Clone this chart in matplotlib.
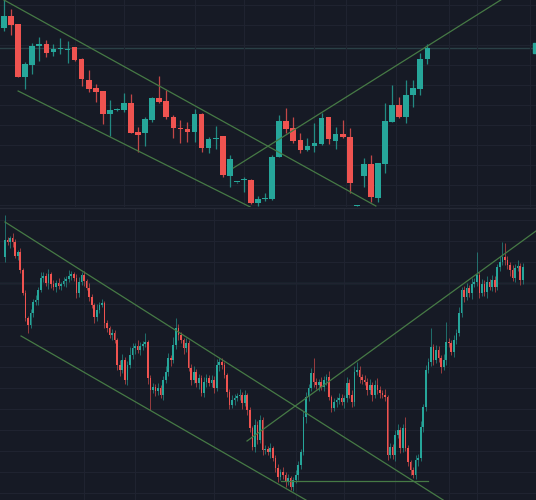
#Gráfico de velas: dos paneles con canales de tendencia

import matplotlib
matplotlib.use("Agg")
import matplotlib.pyplot as plt
import matplotlib.transforms as mtransforms
from matplotlib.patches import Rectangle
import numpy as np

# 1. Datos del panel superior (velas diarias)
sup_apertura = [617, 653, 628, 470, 504, 562, 569, 543, 552, 550, 558, 522, 460, 436, 427, 358,
                370, 370, 391, 304, 302, 340, 407, 397, 350, 317, 313, 303, 358, 255, 282, 291,
                173, 153, 159, 160, 92, 102, 102, 230, 338, 316, 280, 250, 262, 268, 350, 277,
                297, 290, 82, 172, 208, 107, 208, 335, 385, 350, 415, 432, 523]
sup_maximo = [710, 672, 628, 515, 570, 588, 580, 569, 585, 578, 560, 525, 490, 447, 427, 400,
              375, 420, 417, 320, 350, 410, 472, 430, 355, 340, 335, 373, 360, 290, 322, 292,
              235, 155, 170, 162, 113, 122, 235, 355, 375, 350, 300, 285, 330, 360, 350, 320,
              340, 315, 84, 225, 235, 210, 390, 445, 410, 460, 460, 540, 567]
sup_minimo = [608, 595, 468, 432, 478, 517, 528, 533, 538, 512, 518, 441, 423, 395, 327, 293,
              367, 365, 302, 245, 263, 335, 392, 342, 287, 270, 275, 275, 245, 240, 252, 170,
              140, 152, 123, 88, 82, 97, 100, 230, 300, 270, 240, 248, 245, 265, 268, 253,
              285, 122, 81, 140, 95, 93, 180, 335, 345, 330, 380, 415, 508]
sup_cierre = [653, 625, 470, 508, 563, 569, 542, 554, 555, 553, 521, 464, 434, 425, 358, 371,
              372, 392, 302, 296, 343, 407, 395, 349, 315, 313, 303, 358, 257, 283, 286, 175,
              223, 154, 161, 92, 103, 105, 230, 337, 313, 278, 250, 263, 270, 347, 283, 297,
              289, 150, 83, 208, 108, 210, 337, 385, 350, 415, 437, 523, 556]

# líneas de tendencia dibujadas (indice de vela, precio)
sup_linea_alta = ([0, 52.7], [700, 82])
sup_linea_baja = ([2.0, 34.9], [427, 79])
sup_linea_sube = ([32.5, 70.4], [196, 700])

# 2. Datos del panel inferior (velas de menor plazo)
inf_apertura0 = 243
inf_cierre = [260, 258, 262, 258, 244, 248, 230, 207, 182, 175,
              187, 198, 200, 210, 222, 224, 217, 226, 216, 213,
              217, 214, 216, 219, 221, 224, 226, 222, 207, 218,
              225, 219, 212, 203, 195, 183, 190, 195, 197, 177,
              172, 165, 167, 160, 135, 130, 140, 120, 135, 145,
              152, 154, 150, 154, 156, 158, 122, 110, 113, 109,
              112, 105, 120, 128, 142, 140, 155, 172, 165, 160,
              152, 157, 132, 120, 128, 117, 122, 107, 118, 122,
              117, 120, 112, 135, 138, 135, 125, 108, 95, 100,
              102, 104, 105, 97, 105, 90, 72, 53, 75, 60,
              80, 50, 51, 48, 52, 42, 32, 23, 28, 25,
              18, 22, 13, 20, 25, 35, 48, 83, 103, 112,
              127, 118, 115, 118, 113, 120, 123, 103, 92, 98,
              100, 102, 98, 102, 117, 105, 98, 128, 130, 123,
              120, 118, 110, 115, 105, 115, 110, 107, 105, 103,
              45, 53, 45, 65, 70, 52, 72, 52, 38, 30,
              25, 40, 42, 73, 93, 130, 138, 153, 140, 150,
              142, 133, 140, 158, 157, 148, 160, 167, 187, 210,
              203, 212, 207, 216, 218, 225, 207, 216, 208, 218,
              213, 220, 213, 233, 238, 243, 240, 235, 230, 222,
              232, 234, 220, 233]
inf_mecha_arriba = [25, 3, 2, 5, 3, 2, 4, 2, 3, 2,
                    4, 3, 5, 3, 6, 4, 3, 5, 2, 4,
                    3, 5, 2, 4, 3, 6, 3, 2, 4, 5,
                    3, 4, 2, 5, 3, 2, 6, 3, 4, 2,
                    3, 2, 4, 3, 2, 5, 6, 3, 4, 8,
                    5, 3, 6, 4, 3, 9, 2, 3, 4, 3,
                    5, 3, 4, 6, 5, 3, 8, 10, 4, 3,
                    2, 5, 3, 4, 6, 3, 4, 3, 5, 4,
                    3, 5, 4, 6, 4, 4, 3, 2, 3, 5,
                    4, 3, 6, 3, 5, 2, 3, 2, 6, 4,
                    5, 3, 4, 3, 5, 2, 3, 4, 3, 5,
                    3, 4, 2, 3, 5, 4, 3, 6, 5, 4,
                    5, 15, 4, 3, 5, 4, 3, 6, 2, 4,
                    3, 5, 4, 3, 6, 4, 5, 6, 8, 4,
                    3, 5, 4, 6, 3, 5, 7, 4, 3, 6,
                    2, 4, 3, 5, 6, 3, 4, 11, 3, 2,
                    3, 5, 4, 6, 3, 5, 4, 19, 3, 5,
                    4, 3, 6, 20, 4, 3, 5, 4, 6, 3,
                    4, 5, 3, 6, 4, 23, 3, 5, 4, 6,
                    3, 5, 4, 3, 6, 15, 14, 4, 3, 5,
                    4, 6, 3, 4]
inf_mecha_abajo = [5, 3, 6, 5, 2, 4, 3, 2, 3, 8,
                   3, 4, 3, 5, 2, 4, 3, 6, 4, 3,
                   5, 3, 4, 2, 6, 3, 4, 3, 5, 4,
                   3, 5, 2, 4, 3, 6, 4, 3, 2, 5,
                   4, 3, 5, 3, 5, 6, 3, 4, 5, 3,
                   4, 6, 3, 5, 4, 3, 6, 20, 3, 5,
                   4, 3, 5, 3, 4, 6, 3, 4, 5, 3,
                   6, 4, 3, 5, 3, 4, 6, 3, 4, 5,
                   3, 4, 5, 3, 6, 4, 3, 5, 4, 3,
                   5, 3, 4, 6, 3, 5, 4, 3, 5, 4,
                   3, 5, 4, 3, 6, 3, 4, 5, 3, 4,
                   5, 3, 3, 4, 3, 5, 4, 3, 6, 4,
                   3, 5, 4, 6, 3, 4, 5, 3, 4, 3,
                   5, 4, 3, 6, 4, 3, 5, 4, 3, 6,
                   4, 3, 5, 4, 6, 3, 4, 5, 3, 4,
                   5, 3, 4, 6, 3, 5, 4, 3, 4, 5,
                   3, 4, 6, 3, 5, 4, 3, 4, 5, 3,
                   4, 6, 3, 5, 4, 3, 5, 4, 3, 4,
                   5, 3, 4, 6, 3, 4, 5, 3, 4, 6,
                   3, 4, 5, 3, 4, 3, 5, 4, 6, 3,
                   4, 3, 5, 4]

inf_linea_alta = ([0, 171.8], [278, 0])
inf_linea_baja = ([6.3, 118], [164, 0])
inf_linea_sube = ([94.9, 208.2], [59, 269])
inf_soporte = ([108.2, 165.9], [19, 19])
inf_nivel = 217

# colores estilo oscuro
fondo = "#161a25"
rejilla = "#1f2330"
verde = "#26a69a"
rojo = "#ef5350"
tendencia = "#467a45"
linea_precio = "#2a4046"


def velas(ax, o, h, l, c, ancho, cuerpo_min, alfa_mecha, grosor):
    o = np.array(o, dtype=float)
    h = np.array(h, dtype=float)
    l = np.array(l, dtype=float)
    c = np.array(c, dtype=float)
    x = np.arange(len(o))
    colores = np.where(c >= o, verde, rojo)
    ax.vlines(x, l, h, colors=colores, linewidth=grosor, alpha=alfa_mecha, zorder=2)
    base = np.minimum(o, c)
    alto = np.maximum(np.abs(c - o), cuerpo_min)
    ax.bar(x, alto, ancho, bottom=base, color=colores, linewidth=0, zorder=3)


def preparar(ax, xlim, ylim, xgrid, ygrid):
    ax.set_facecolor(fondo)
    ax.set_xlim(*xlim)
    ax.set_ylim(*ylim)
    ax.set_xticks(xgrid)
    ax.set_yticks(ygrid)
    ax.grid(True, color=rejilla, linewidth=0.8)
    ax.tick_params(length=0, labelbottom=False, labelleft=False)
    for s in ax.spines.values():
        s.set_visible(False)


fig = plt.figure(figsize=(5.36, 5.0), dpi=100, facecolor=fondo)

# 3. Panel superior
ax1 = fig.add_axes([0, 1 - 207 / 500, 1, 207 / 500])
preparar(ax1, (-0.57, 75.4), (79, 700),
         [10, 17, 27, 34, 44, 48.5, 55.6, 63, 67, 74.6], np.arange(85, 700, 60))
ax1.axhline(sup_cierre[-1], color=linea_precio, linewidth=1, zorder=1)
velas(ax1, sup_apertura, sup_maximo, sup_minimo, sup_cierre, 0.8, 3, 0.8, 0.9)
for linea in (sup_linea_alta, sup_linea_baja, sup_linea_sube):
    ax1.plot(linea[0], linea[1], color=tendencia, linewidth=0.9, zorder=4)
# etiqueta del precio en el borde derecho
trans = mtransforms.blended_transform_factory(ax1.transAxes, ax1.transData)
ax1.add_patch(Rectangle((0.994, sup_cierre[-1] - 15), 0.01, 30, transform=trans,
                        color=verde, zorder=5, clip_on=False))

# 4. Panel inferior
ax2 = fig.add_axes([0, 0, 1, 292 / 500])
preparar(ax2, (-1.96, 208.2), (0, 292),
         [31, 51, 82, 114, 133, 153, 174, 185], np.arange(7, 292, 21))
ax2.axhline(inf_nivel, color=linea_precio, linewidth=1, zorder=1)

inf_apertura = [inf_apertura0] + inf_cierre[:-1]
o = np.array(inf_apertura)
c = np.array(inf_cierre)
inf_maximo = np.maximum(o, c) + np.array(inf_mecha_arriba)
inf_minimo = np.minimum(o, c) - np.array(inf_mecha_abajo)
velas(ax2, inf_apertura, inf_maximo, inf_minimo, inf_cierre, 0.65, 1, 0.6, 0.7)

for linea in (inf_linea_alta, inf_linea_baja, inf_linea_sube, inf_soporte):
    ax2.plot(linea[0], linea[1], color=tendencia, linewidth=0.9, zorder=4)

# separador entre paneles
fig.add_artist(plt.Line2D([0, 1], [1 - 207.5 / 500] * 2, color="#252935", linewidth=1))

fig.savefig("out.png", dpi=100, facecolor=fondo)
